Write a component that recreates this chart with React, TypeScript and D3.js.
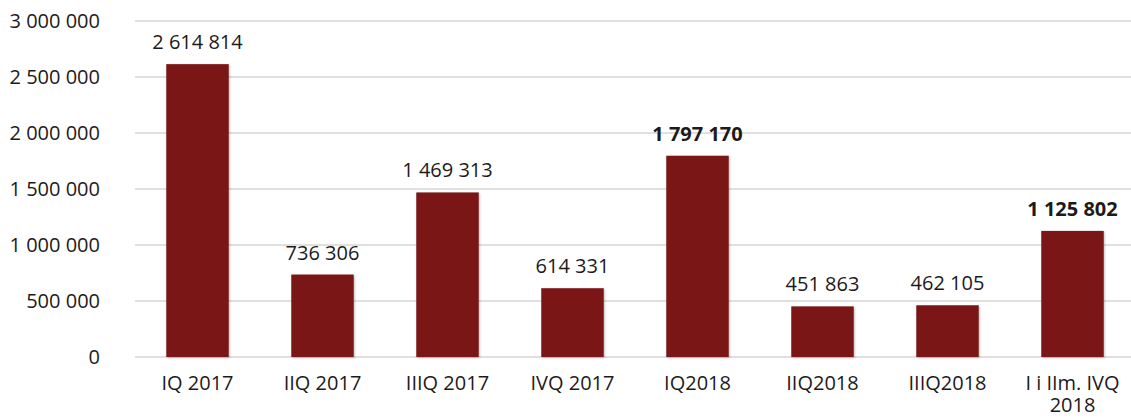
import React from "react";
import * as d3 from "d3";

const categories: string[][] = [
  ["IQ 2017"],
  ["IIQ 2017"],
  ["IIIQ 2017"],
  ["IVQ 2017"],
  ["IQ2018"],
  ["IIQ2018"],
  ["IIIQ2018"],
  ["I i IIm. IVQ", "2018"],
];
const values: number[] = [2614814, 736306, 1469313, 614331, 1797170, 451863, 462105, 1125802];
const boldLabels: boolean[] = [false, false, false, false, true, false, false, true];
const yTicks: number[] = [0, 500000, 1000000, 1500000, 2000000, 2500000, 3000000];

const W = 1131;
const H = 418;
const FONT = "'Open Sans', 'Noto Sans', sans-serif";
const fmt = (v: number) => d3.format(",")(v).replace(/,/g, " ");

export default function App() {
  const x = d3
    .scaleBand<number>()
    .domain(values.map((_, i) => i))
    .range([135, 1135])
    .paddingInner(0.5)
    .paddingOuter(0.25);
  const y = d3.scaleLinear().domain([0, 3000000]).range([357, 21]);

  return (
    <svg
      width={W}
      height={H}
      style={{ position: "absolute", left: 0, top: 0, background: "#fff" }}
      fontFamily={FONT}
    >
      <defs>
        <filter id="sh" x="-10%" y="-10%" width="130%" height="130%">
          <feDropShadow dx="1" dy="1" stdDeviation="1.2" floodColor="#000" floodOpacity="0.25" />
        </filter>
      </defs>
      {yTicks.map((t) => (
        <g key={t}>
          <line x1={135} x2={W} y1={y(t)} y2={y(t)} stroke="#d6d6d6" strokeWidth={1.4} />
          <text x={100} y={y(t)} dy="0.35em" textAnchor="end" fontSize={20} fill="#1d1a1b">
            {fmt(t)}
          </text>
        </g>
      ))}
      {values.map((v, i) => (
        <g key={i}>
          <rect
            x={x(i)!}
            y={y(v)}
            width={x.bandwidth()}
            height={y(0) - y(v)}
            fill="#7a1719"
            filter="url(#sh)"
          />
          <text
            x={x(i)! + x.bandwidth() / 2}
            y={y(v) - 15}
            textAnchor="middle"
            fontSize={20}
            fontWeight={boldLabels[i] ? 700 : 400}
            fill="#1d1a1b"
          >
            {fmt(v)}
          </text>
          {categories[i].map((line, j) => (
            <text
              key={j}
              x={x(i)! + x.bandwidth() / 2}
              y={390 + j * 22}
              textAnchor="middle"
              fontSize={20}
              fill="#1d1a1b"
            >
              {line}
            </text>
          ))}
        </g>
      ))}
    </svg>
  );
}
